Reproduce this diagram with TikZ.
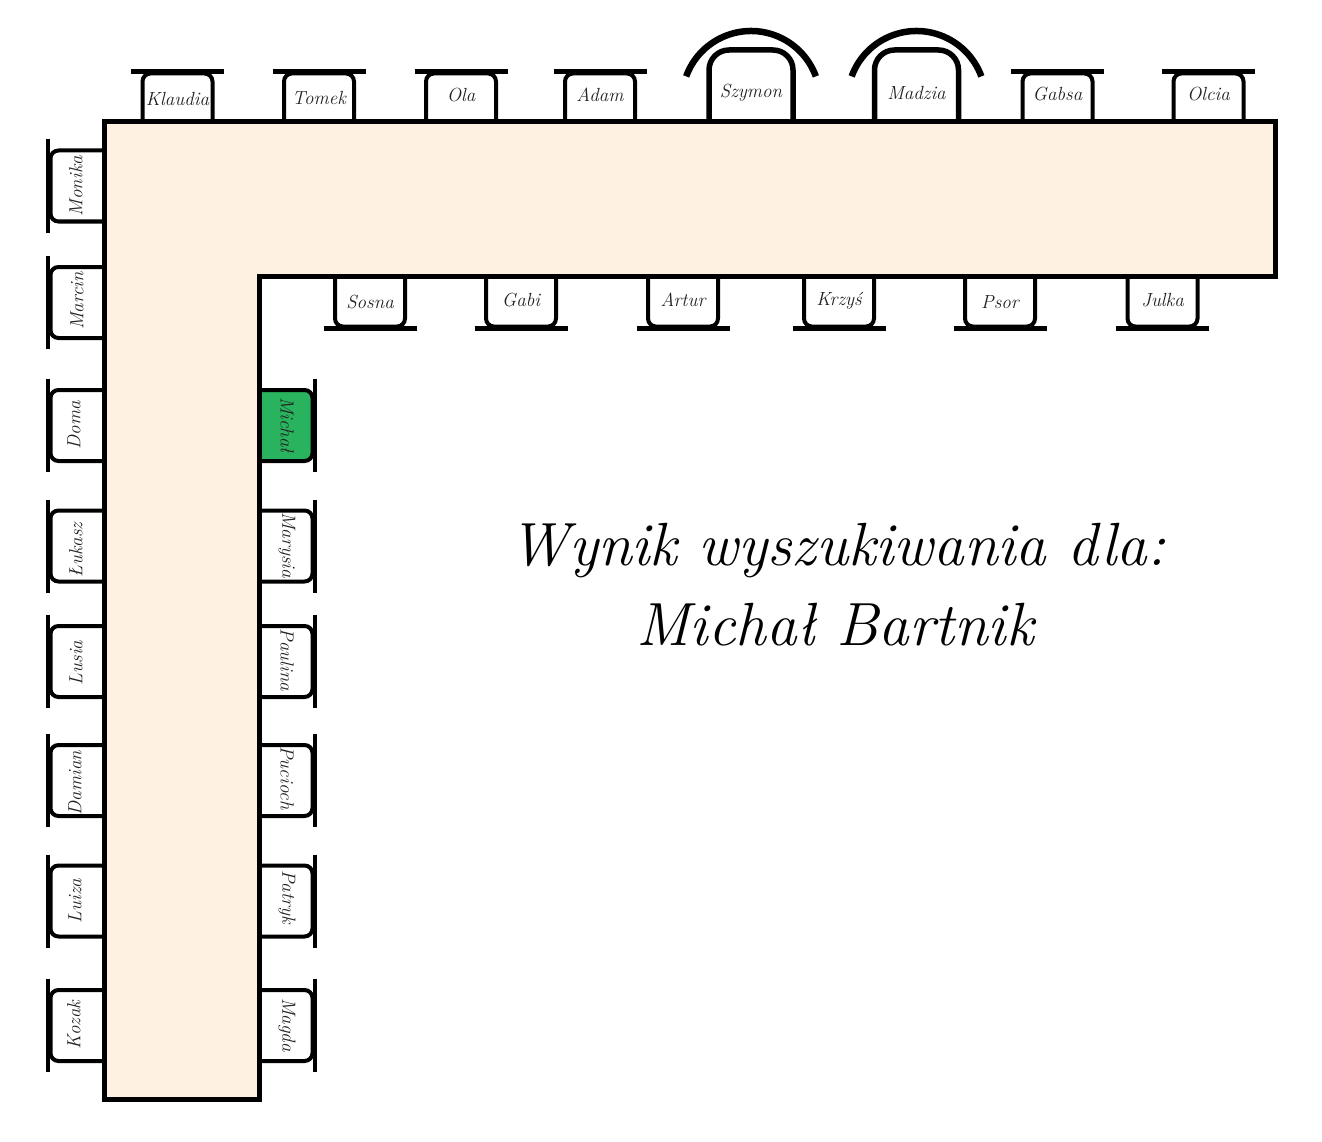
\documentclass[tikz,border=0pt]{standalone}
\usepackage{fontspec}
\definecolor{tablefill}{HTML}{FFF1E1}
\definecolor{seatgreen}{HTML}{2AB35E}
\definecolor{nametext}{HTML}{222222}
\tikzset{
  chairline/.style={line width=4pt, rounded corners=8pt, fill=white},
  chairback/.style={line width=4.5pt},
  archline/.style={line width=5.5pt, rounded corners=20pt, fill=white},
  archback/.style={line width=6.5pt},
  tabledraw/.style={line width=5pt, fill=tablefill, line join=miter},
  namelabel/.style={font=\fontsize{19}{19}\selectfont\itshape, text=nametext, inner sep=0pt},
  heading/.style={font=\fontsize{61}{80}\selectfont\itshape, inner sep=0pt, anchor=base},
}
% id, cx, text y, name
\newcommand\TopChair[4]{%
  \draw[chairline] (#2-35,122) -- (#2-35,73.5) -- (#2+35,73.5) -- (#2+35,122);
  \draw[chairback] (#2-46.5,71.5) -- (#2+46.5,71.5);
  \node[namelabel] (#1) at (#2,#3) {#4};
}
\newcommand\ArchChair[4]{%
  \draw[archline] (#2-42,122) -- (#2-42,50) -- (#2+42,50) -- (#2+42,122);
  \draw[archback] (#2-64.84,76.4) arc[start angle=160, end angle=20, radius=69pt];
  \node[namelabel] (#1) at (#2,#3) {#4};
}
\newcommand\BottomChair[4]{%
  \draw[chairline] (#2-35,276) -- (#2-35,326.5) -- (#2+35,326.5) -- (#2+35,276);
  \draw[chairback] (#2-46.5,328.7) -- (#2+46.5,328.7);
  \node[namelabel] (#1) at (#2,#3) {#4};
}
% id, cy, text x, text y, name
\newcommand\LeftChair[5]{%
  \draw[chairline] (104,#2-35.5) -- (50.5,#2-35.5) -- (50.5,#2+35.5) -- (104,#2+35.5);
  \draw[chairback] (48,#2-46.5) -- (48,#2+46.5);
  \node[namelabel, rotate=90] (#1) at (#3,#4) {#5};
}
% id, cy, text x, text y, name, fill
\newcommand\RightChair[6]{%
  \draw[chairline, fill=#6] (259,#2-35.5) -- (312.5,#2-35.5) -- (312.5,#2+35.5) -- (259,#2+35.5);
  \draw[chairback] (315,#2-46.5) -- (315,#2+46.5);
  \node[namelabel, rotate=-90] (#1) at (#3,#4) {#5};
}
\begin{document}
\begin{tikzpicture}[x={(1pt,0)}, y={(0,-1pt)}]
\useasboundingbox (0,0) rectangle (1322,1142);
\fill[white] (0,0) rectangle (1322,1142);

% top row
\TopChair{klaudia}{177.5}{99}{Klaudia}
\TopChair{tomek}{319}{98}{Tomek}
\TopChair{ola}{461}{95}{Ola}
\TopChair{adam}{600}{95}{Adam}
\ArchChair{szymon}{751}{93}{Szymon}
\ArchChair{madzia}{916.5}{93}{Madzia}
\TopChair{gabsa}{1057.5}{94}{Gabsa}
\TopChair{olcia}{1208.5}{94}{Olcia}

% under the long arm
\BottomChair{sosna}{370}{302}{Sosna}
\BottomChair{gabi}{521}{300}{Gabi}
\BottomChair{artur}{683}{300}{Artur}
\BottomChair{krzys}{839}{301}{Krzyś}
\BottomChair{psor}{1000}{302}{Psor}
\BottomChair{julka}{1162.5}{300}{Julka}

% left column
\LeftChair{monika}{186}{76}{186}{Monika}
\LeftChair{marcin}{302.5}{77}{301}{Marcin}
\LeftChair{doma}{425.5}{74}{425}{Doma}
\LeftChair{lukasz}{546}{76}{550}{Łukasz}
\LeftChair{lusia}{661.5}{76}{663}{Lusia}
\LeftChair{damian}{780.5}{75}{783}{Damian}
\LeftChair{luiza}{901}{75}{901}{Luiza}
\LeftChair{kozak}{1025.5}{74}{1025}{Kozak}

% right column
\RightChair{michal}{425.5}{287}{425}{Michał}{seatgreen}
\RightChair{marysia}{546}{287}{545}{Marysia}{white}
\RightChair{paulina}{661.5}{287}{660}{Paulina}{white}
\RightChair{pucioch}{780.5}{287}{778}{Pucioch}{white}
\RightChair{patryk}{901}{287}{897}{Patryk}{white}
\RightChair{magda}{1025.5}{287}{1025}{Magda}{white}

% the table
\draw[tabledraw] (104,122) -- (1275,122) -- (1275,276) -- (259,276) -- (259,1099) -- (104,1099) -- cycle;

% heading
\node[heading] (title1) at (837.5,565) {Wynik wyszukiwania dla:};
\node[heading] (title2) at (835,645) {Michał Bartnik};
\end{tikzpicture}
\end{document}
